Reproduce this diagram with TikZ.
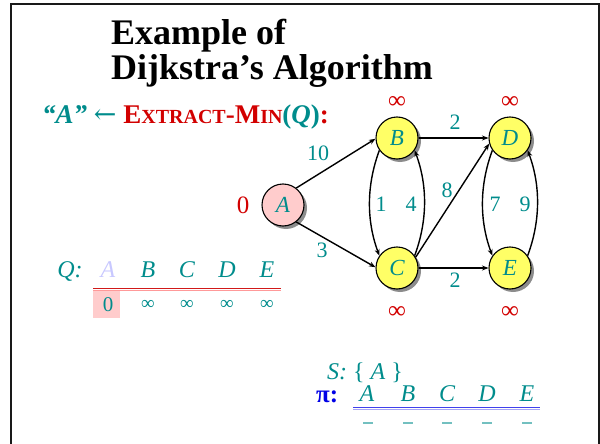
\documentclass[tikz,border=0pt]{standalone}
\usepackage{fontspec}
\setmainfont{Liberation Serif}
\newfontfamily\arrowfont{DejaVu Serif}
\usetikzlibrary{shadows,arrows.meta}
\definecolor{tealtxt}{RGB}{0,140,140}
\definecolor{redtxt}{RGB}{210,0,0}
\definecolor{bluetxt}{RGB}{0,0,230}
\definecolor{vyellow}{RGB}{255,255,102}
\definecolor{vpink}{RGB}{255,204,204}
\definecolor{qlight}{RGB}{200,200,255}
\newcommand{\fsz}[1]{\fontsize{#1}{#1}\selectfont}
\begin{document}
\begin{tikzpicture}[x=1pt,y=-1pt,
  vtx/.style={circle, draw=black, line width=1.1pt, minimum size=42pt, inner sep=0pt,
    font=\fsz{23}\itshape, text=tealtxt,
    drop shadow={shadow xshift=3pt, shadow yshift=-3pt, fill=black!45, opacity=1}},
  arc/.style={line width=1.4pt, -{Stealth[length=6.5pt,width=5pt]}},
  wt/.style={text=tealtxt, font=\fsz{22}, inner sep=0pt},
  dist/.style={text=redtxt, font=\fsz{25}, inner sep=0pt},
  lbl/.style={inner sep=0pt, anchor=base west},
  qcell/.style={inner sep=0pt, anchor=base, text=tealtxt, font=\fsz{24}\itshape},
  qinf/.style={inner sep=0pt, text=tealtxt, font=\fsz{19}},
  pcell/.style={qcell, font=\fsz{24}\itshape},
  pdash/.style={line width=1.3pt, tealtxt!55},
]
\useasboundingbox (0,0) rectangle (600,444);
% frame, open at the bottom
\draw[line width=2pt, black!90] (11,444) -- (11,4.5) -- (598.5,4.5) -- (598.5,444);

% title
\node[lbl, font=\fsz{36}\bfseries] (t1) at (111,45) {Example of};
\node[lbl, font=\fsz{36}\bfseries] (t2) at (111,80) {Dijkstra’s Algorithm};

% current step
\node[lbl, font=\fsz{27}\bfseries] (step) at (42,123)
  {\textcolor{tealtxt}{\itshape “A”}\ \textcolor{tealtxt}{\arrowfont\mdseries ←}\ \textcolor{redtxt}{E{\fsz{20}XTRACT}-M{\fsz{20}IN}}\textcolor{tealtxt}{(\textit{Q})}\textcolor{redtxt}{:}};

% graph
\node[vtx, fill=vpink]   (A) at (283,205) {A};
\node[vtx, fill=vyellow] (B) at (397,138) {B};
\node[vtx, fill=vyellow] (C) at (397,268) {C};
\node[vtx, fill=vyellow] (D) at (510,138) {D};
\node[vtx, fill=vyellow] (E) at (510,268) {E};

\draw[arc] (A.52) -- (B.182);
\draw[arc] (A.-52) -- (C.178);
\draw[arc] (B) -- (D);
\draw[arc] (C) -- (E);
\draw[arc] (C.30) -- (D.195);
\draw[arc] (B.215) .. controls +(-13,35) and +(-13,-35) .. (C.145);
\draw[arc] (C.35) .. controls +(13,-35) and +(13,35) .. (B.-35);
\draw[arc] (D.215) .. controls +(-13,35) and +(-13,-35) .. (E.145);
\draw[arc] (E.35) .. controls +(13,-35) and +(13,35) .. (D.-35);

\node[wt] (w10) at (318,153) {10};
\node[wt] (w3)  at (322,250) {3};
\node[wt] (wbd) at (455,122) {2};
\node[wt] (wce) at (455,280) {2};
\node[wt] (w8)  at (447,190) {8};
\node[wt] (w1)  at (381,204) {1};
\node[wt] (w4)  at (411,204) {4};
\node[wt] (w7)  at (495,204) {7};
\node[wt] (w9)  at (525,204) {9};

\node[dist] (dA) at (243,205) {0};
\node[dist] (dB) at (397,102) {∞};
\node[dist] (dD) at (510,102) {∞};
\node[dist] (dC) at (397,312) {∞};
\node[dist] (dE) at (510,312) {∞};

% priority queue
\fill[vpink] (93,290) rectangle (120,318);
\node[qcell] (qlab) at (70,277) {Q:};
\node[qcell, text=qlight] (qA) at (108,277) {A};
\node[qcell] (qB) at (148,277) {B};
\node[qcell] (qC) at (187,277) {C};
\node[qcell] (qD) at (227,277) {D};
\node[qcell] (qE) at (267,277) {E};
\draw[line width=1.5pt, red!80!black!90] (93,288.3) -- (281,288.3);
\draw[line width=1pt, red!40] (93,290.3) -- (281,290.3);
\node[qinf, font=\fsz{21}] (kA) at (108,305) {0};
\node[qinf] (kB) at (148,305) {∞};
\node[qinf] (kC) at (187,305) {∞};
\node[qinf] (kD) at (227,305) {∞};
\node[qinf] (kE) at (267,305) {∞};

% settled set and predecessors
\node[lbl, text=tealtxt, font=\fsz{24}] (S) at (327,379) {\textit{S:} \{ \textit{A} \}};
\node[lbl, text=bluetxt, font=\fsz{25}\bfseries] (pi) at (316,402) {π:};
\node[pcell] (pA) at (367,401) {A};
\node[pcell] (pB) at (408,401) {B};
\node[pcell] (pC) at (447,401) {C};
\node[pcell] (pD) at (487,401) {D};
\node[pcell] (pE) at (527,401) {E};
\draw[line width=1.5pt, bluetxt!75] (353,407.5) -- (540,407.5);
\draw[line width=1pt, bluetxt!35] (353,409.5) -- (540,409.5);
\foreach \x in {368,408,447,487,527}
  \draw[pdash] (\x-5,423) -- (\x+5,423);
\end{tikzpicture}
\end{document}
